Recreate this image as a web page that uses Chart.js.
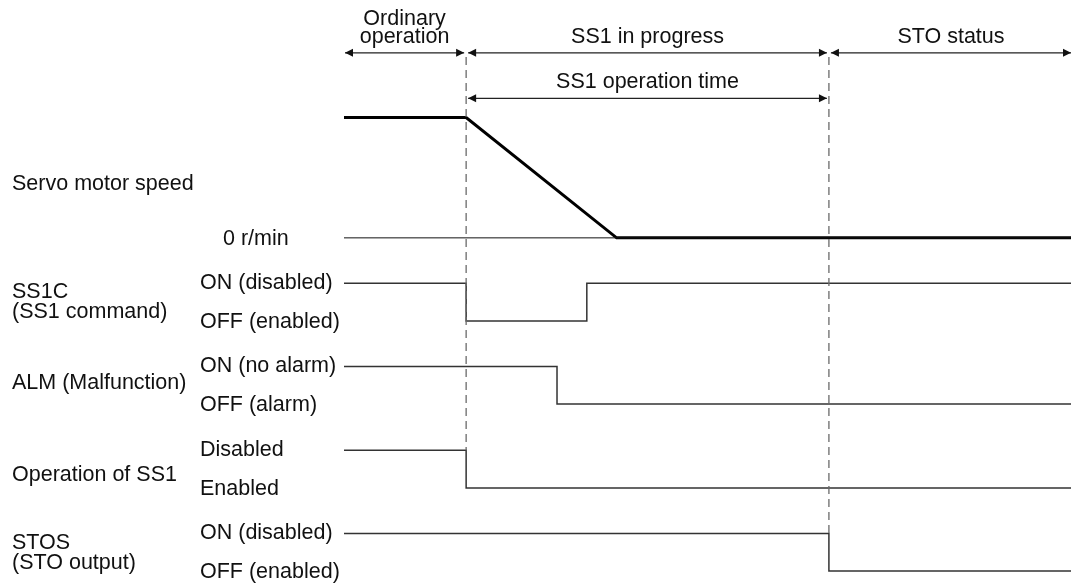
<!DOCTYPE html>
<html>
<head>
<meta charset="utf-8">
<script src="https://cdn.jsdelivr.net/npm/chart.js@4"></script>
<style>
  html, body { margin: 0; padding: 0; background: #fff; }
  canvas { display: block; }
</style>
</head>
<body>
<canvas id="timing" width="1075" height="583"></canvas>
<script>
// --- Data (time in arbitrary units, 0..100; levels 1 = high / 0 = low) ---
const T_SS1 = 16.8;     // SS1C turned OFF, SS1 starts
const T_ALM = 29.3;     // alarm output
const T_SS1C_ON = 33.4; // SS1C back ON
const T_STOP = 37.5;    // motor reaches 0 r/min
const T_STO = 66.7;     // SS1 operation time elapsed -> STO

const speedTimes = [0, T_SS1, T_STOP, 100];
const speedLevels = [1, 1, 0, 0];

const ss1cTimes = [0, T_SS1, T_SS1C_ON, 100];
const ss1cLevels = [1, 0, 1, 1];

const almTimes = [0, T_ALM, 100];
const almLevels = [1, 0, 0];

const opTimes = [0, T_SS1, 100];
const opLevels = [1, 0, 0];

const stosTimes = [0, T_STO, 100];
const stosLevels = [1, 0, 0];

const signalNames = [['Servo motor speed'], ['SS1C', '(SS1 command)'], ['ALM (Malfunction)'], ['Operation of SS1'], ['STOS', '(STO output)']];
const stateLabels = [[null, '0 r/min'], ['ON (disabled)', 'OFF (enabled)'], ['ON (no alarm)', 'OFF (alarm)'], ['Disabled', 'Enabled'], ['ON (disabled)', 'OFF (enabled)']];

const phaseLabels = [['Ordinary', 'operation'], ['SS1 in progress'], ['STO status']];
const phaseBounds = [0, T_SS1, T_STO, 100];
const opTimeLabel = 'SS1 operation time';

// --- Layout (y units on the value axis) ---
const rowBase = [8.86, 6.65, 4.44, 2.21, 0];
const rowAmp = [3.2, 1, 1, 1, 1];
const nameShift = [6, 0, -2, 6, 1]; // px nudges for the signal names
const ARROW_ROW1 = 13.78;
const ARROW_ROW2 = 12.57;
const DASH_TOP = 13.67;

const FONT = '21.5px "Liberation Sans", Arial, sans-serif';
const SIG_COLOR = '#333';

function toPoints(times, levels, row) {
    return times.map((t, i) => ({ x: t, y: rowBase[row] + levels[i] * rowAmp[row] }));
}

function signalDataset(times, levels, row) {
    return {
        data: toPoints(times, levels, row),
        borderColor: SIG_COLOR,
        borderWidth: 1.5,
        stepped: 'before',
        pointRadius: 0,
        clip: false
    };
}

const datasets = [
    // dashed markers
    { data: [{ x: T_SS1, y: DASH_TOP }, { x: T_SS1, y: rowBase[3] + 1 }], borderColor: '#6a6a6a', borderWidth: 1.3, borderDash: [8, 5], pointRadius: 0, clip: false },
    { data: [{ x: T_STO, y: DASH_TOP }, { x: T_STO, y: rowBase[4] + 1 }], borderColor: '#6a6a6a', borderWidth: 1.3, borderDash: [8, 5], pointRadius: 0, clip: false },
    // 0 r/min reference
    { data: [{ x: 0, y: rowBase[0] }, { x: 100, y: rowBase[0] }], borderColor: '#111', borderWidth: 1, pointRadius: 0, clip: false },
    // speed
    { data: toPoints(speedTimes, speedLevels, 0), borderColor: '#000', borderWidth: 3, pointRadius: 0, clip: false, borderCapStyle: 'butt', borderJoinStyle: 'miter' },
    signalDataset(ss1cTimes, ss1cLevels, 1),
    signalDataset(almTimes, almLevels, 2),
    signalDataset(opTimes, opLevels, 3),
    signalDataset(stosTimes, stosLevels, 4)
];

function arrowHead(ctx, x, y, dir) {
    ctx.beginPath();
    ctx.moveTo(x, y);
    ctx.lineTo(x - dir * 8, y - 4);
    ctx.lineTo(x - dir * 8, y + 4);
    ctx.closePath();
    ctx.fill();
}

function drawArrow(ctx, x1, x2, y, leftHead, rightHead) {
    ctx.beginPath();
    ctx.moveTo(x1, y);
    ctx.lineTo(x2, y);
    ctx.stroke();
    if (leftHead) arrowHead(ctx, x1, y, -1);
    if (rightHead) arrowHead(ctx, x2, y, 1);
}

const labelsPlugin = {
    id: 'timingLabels',
    afterDatasetsDraw(chart) {
        const ctx = chart.ctx;
        const xs = chart.scales.x;
        const ys = chart.scales.y;
        ctx.save();
        ctx.font = FONT;
        ctx.fillStyle = '#111';
        ctx.textBaseline = 'middle';

        // signal names and state labels
        signalNames.forEach((lines, row) => {
            const hi = ys.getPixelForValue(rowBase[row] + rowAmp[row]);
            const lo = ys.getPixelForValue(rowBase[row]);
            const mid = (hi + lo) / 2 + nameShift[row];
            ctx.textAlign = 'left';
            lines.forEach((line, i) => {
                ctx.fillText(line, 12, mid + (i - (lines.length - 1) / 2) * 20.5);
            });
            const [hiLabel, loLabel] = stateLabels[row];
            if (hiLabel) ctx.fillText(hiLabel, 200, hi);
            if (loLabel) ctx.fillText(loLabel, row === 0 ? 223 : 200, lo + 1);
        });

        // phase arrows
        ctx.strokeStyle = '#222';
        ctx.fillStyle = '#111';
        ctx.lineWidth = 1.3;
        const y1 = ys.getPixelForValue(ARROW_ROW1);
        const y2 = ys.getPixelForValue(ARROW_ROW2);
        for (let i = 0; i < phaseLabels.length; i++) {
            const xa = xs.getPixelForValue(phaseBounds[i]) + (i === 0 ? 1 : 2);
            const xb = xs.getPixelForValue(phaseBounds[i + 1]) - (i === phaseLabels.length - 1 ? 0 : 2);
            drawArrow(ctx, xa, xb, y1, true, true);
            const lines = phaseLabels[i];
            const cx = (xa + xb) / 2;
            ctx.textAlign = 'center';
            lines.forEach((line, j) => {
                ctx.fillText(line, cx, y1 - 16 - (lines.length - 1 - j) * 17.5);
            });
        }
        const xo1 = xs.getPixelForValue(T_SS1) + 2;
        const xo2 = xs.getPixelForValue(T_STO) - 2;
        drawArrow(ctx, xo1, xo2, y2, true, true);
        ctx.textAlign = 'center';
        ctx.fillText(opTimeLabel, (xo1 + xo2) / 2, y2 - 16);
        ctx.restore();
    }
};

new Chart(document.getElementById('timing'), {
    type: 'line',
    data: { datasets },
    options: {
        responsive: false,
        animation: false,
        layout: { padding: { left: 344, right: 4, top: 44.6, bottom: 12 } },
        scales: {
            x: { type: 'linear', min: 0, max: 100, display: false },
            y: { type: 'linear', min: 0, max: 14, display: false }
        },
        plugins: { legend: { display: false }, tooltip: { enabled: false } }
    },
    plugins: [labelsPlugin]
});
</script>
</body>
</html>
